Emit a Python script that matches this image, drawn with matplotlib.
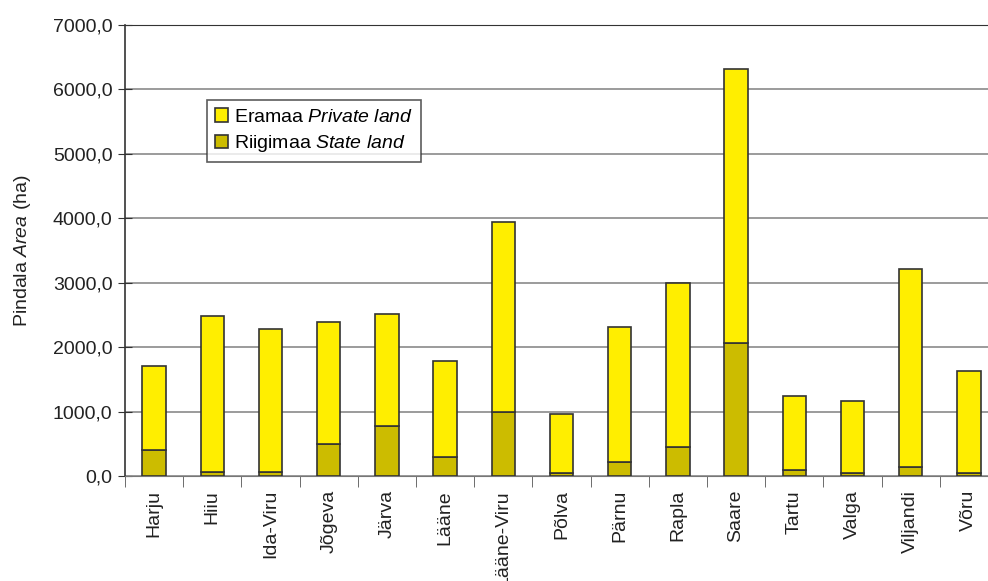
import numpy as np
import matplotlib.pyplot as plt
from matplotlib.ticker import FuncFormatter, FixedLocator

plt.rcParams["font.family"] = ["Liberation Sans", "DejaVu Sans"]
plt.rcParams["mathtext.fontset"] = "custom"
plt.rcParams["mathtext.rm"] = "Liberation Sans"
plt.rcParams["mathtext.it"] = "Liberation Sans:italic"

counties = ["Harju", "Hiiu", "Ida-Viru", "Jõgeva", "Järva", "Lääne", "Lääne-Viru",
            "Põlva", "Pärnu", "Rapla", "Saare", "Tartu", "Valga", "Viljandi", "Võru"]
# totals and state land (ha)
total = [1710, 2480, 2280, 2390, 2515, 1785, 3940, 960, 2315, 3000, 6320, 1245, 1160, 3215, 1630]
state = [403, 67, 62, 500, 770, 300, 993, 47, 222, 455, 2064, 93, 47, 145, 47]
private = [t - s for t, s in zip(total, state)]

fig = plt.figure(figsize=(9.88, 5.81), dpi=100)
ax = fig.add_axes([125 / 988, 1 - 476 / 581, 873 / 988, 451 / 581])

x = np.arange(len(counties))
ax.bar(x, state, width=0.4, color="#CCBC00", edgecolor="#333333", linewidth=1.2, zorder=3,
       label="Riigimaa $\\mathit{State\\ land}$")
ax.bar(x, private, width=0.4, bottom=state, color="#FFEE00", edgecolor="#333333", linewidth=1.2,
       zorder=3, label="Eramaa $\\mathit{Private\\ land}$")

ax.set_xlim(-0.5, len(counties) - 0.5)
ax.set_ylim(0, 7000)
ax.set_yticks(np.arange(0, 7001, 1000))
ax.yaxis.set_major_formatter(FuncFormatter(lambda v, p: f"{v:.1f}".replace(".", ",")))
ax.grid(axis="y", color="#8a8a8a", linewidth=1.2, zorder=0)

ax.set_xticks(x)
ax.set_xticklabels(counties, rotation=90, fontsize=14, color="#222222")
ax.tick_params(axis="x", which="major", length=0, pad=10)
ax.xaxis.set_minor_locator(FixedLocator(np.arange(-0.5, len(counties), 1.0)))
ax.tick_params(axis="x", which="minor", length=8, direction="out", color="#555555")
ax.tick_params(axis="y", direction="inout", length=10, labelsize=14, labelcolor="#222222",
               color="#333333", pad=4)

for s in ["right"]:
    ax.spines[s].set_visible(False)
ax.spines["top"].set_color("#333333")
ax.spines["left"].set_color("#333333")
ax.spines["left"].set_linewidth(1.2)
ax.spines["bottom"].set_color("#777777")

ax.set_ylabel("Pindala $\\mathit{Area}$ (ha)", fontsize=14, color="#222222", labelpad=14)

handles, labels = ax.get_legend_handles_labels()
leg = ax.legend(handles[::-1], labels[::-1], loc="upper left", bbox_to_anchor=(0.094, 0.833),
                fontsize=14, frameon=True, fancybox=False, edgecolor="#333333",
                handlelength=0.7, handleheight=0.7, handletextpad=0.3, borderpad=0.4,
                labelspacing=0.4, borderaxespad=0)
leg.get_frame().set_linewidth(1.2)

fig.savefig("out.png", dpi=100)
